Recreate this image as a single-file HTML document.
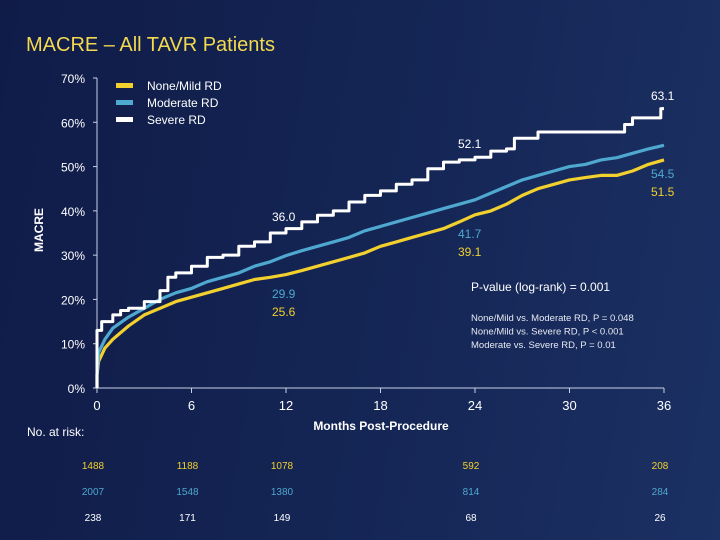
<!DOCTYPE html>
<html><head><meta charset="utf-8"><style>
body{margin:0;width:720px;height:540px;overflow:hidden;background:linear-gradient(100deg,#101b48 0%,#142554 50%,#1b3063 100%);font-family:"Liberation Sans",sans-serif}
svg{position:absolute;left:0;top:0}
</style></head><body>
<svg width="720" height="540" id="chart">
<text x="26" y="51" fill="#f2d94e" font-size="20">MACRE – All TAVR Patients</text>
<g id="axes"></g><g id="lines"></g><g id="labels"></g>
</svg>
<script>
const months=[0,6,12,18,24,30,36];
const yTicks=[0,10,20,30,40,50,60,70];
const seriesNames=["None/Mild RD","Moderate RD","Severe RD"];
const seriesColors=["#f2d02e","#4fa8cf","#ffffff"];
const mildX=[0,0.1,0.5,1,2,3,4,5,6,7,8,9,10,11,12,13,14,15,16,17,18,19,20,21,22,23,24,25,26,27,28,29,30,31,32,33,34,35,36];
const mildY=[3,6,9,11,14,16.5,18,19.5,20.5,21.5,22.5,23.5,24.5,25,25.6,26.5,27.5,28.5,29.5,30.5,32,33,34,35,36,37.5,39.1,40,41.5,43.5,45,46,47,47.5,48,48,49,50.5,51.5];
const modX=mildX;
const modY=[3,8,11,13.5,16,18,20,21.5,22.5,24,25,26,27.5,28.5,29.9,31,32,33,34,35.5,36.5,37.5,38.5,39.5,40.5,41.5,42.5,44,45.5,47,48,49,50,50.5,51.5,52,53,54,54.8];
const sevX=[0,0.3,1,1.5,2,3,4,4.5,5,6,7,8,9,10,11,12,13,14,15,16,17,18,19,20,21,22,23,24,25,26,26.5,28,33,33.5,34,35.8,36];
const sevY=[13,15,16.5,17.5,18,19.5,22,25,26,27.5,29.5,30,32,33,35,36,37.5,39,40,42,43.5,44.5,46,47,49.5,51,51.5,52.1,53.5,54,56.4,57.8,57.8,59.5,61,63.1,63.1];
const endLabels=[["25.6",12,"0"],["29.9",12,"1"],["36.0",12,"2"],["39.1",24,"0"],["41.7",24,"1"],["52.1",24,"2"],["51.5",36,"0"],["54.5",36,"1"],["63.1",36,"2"]];
const riskMild=[1488,1188,1078,null,592,null,208];
const riskMod=[2007,1548,1380,null,814,null,284];
const riskSev=[238,171,149,null,68,null,26];
const X=m=>97+m*(664-97)/36, Y=v=>388-v*(388-78)/70;
const NS="http://www.w3.org/2000/svg";
function mk(t,a,p,txt){const e=document.createElementNS(NS,t);for(const k in a)e.setAttribute(k,a[k]);if(txt!=null)e.textContent=txt;p.appendChild(e);return e;}
const ax=document.getElementById('axes'),ln=document.getElementById('lines'),lb=document.getElementById('labels');
let e=mk('line',{x1:97,y1:78,x2:97,y2:388,stroke:'#c8d0e6','stroke-width':1},ax);

e=mk('line',{x1:97,y1:388,x2:664,y2:388,stroke:'#c8d0e6','stroke-width':1},ax);

yTicks.forEach(v=>{mk('line',{x1:93,x2:97,y1:Y(v),y2:Y(v),stroke:'#c8d0e6'},ax);
 const t=mk('text',{x:85,y:Y(v)+5,fill:'#fff','font-size':12,'text-anchor':'end'},ax,v+'%');
 });
months.forEach(m=>{mk('line',{x1:X(m),x2:X(m),y1:388,y2:393,stroke:'#c8d0e6'},ax);
 const t=mk('text',{x:X(m),y:410,fill:'#fff','font-size':13,'text-anchor':'middle'},ax,m);
 });
e=mk('text',{x:0,y:0,fill:'#fff','font-size':12,'font-weight':'bold','text-anchor':'middle',transform:'translate(43,230) rotate(-90)'},ax,'MACRE');

e=mk('text',{x:381,y:430,fill:'#fff','font-size':12,'font-weight':'bold','text-anchor':'middle'},ax,'Months Post-Procedure');

function step(xs,ys){let d='M'+X(0)+','+Y(0)+' V'+Y(ys[0]);for(let i=1;i<xs.length;i++){d+=' H'+X(xs[i]).toFixed(1)+' V'+Y(ys[i]).toFixed(1);}return d;}
function poly(xs,ys){let d='M'+X(0)+','+Y(0);for(let i=0;i<xs.length;i++){d+=' L'+X(xs[i]).toFixed(1)+','+Y(ys[i]).toFixed(1);}return d;}
[[mildX,mildY,poly],[modX,modY,poly],[sevX,sevY,step]].forEach((s,i)=>{
 const p=mk('path',{d:s[2](s[0],s[1]),fill:'none',stroke:seriesColors[i],'stroke-width':i==2?3:3.2,'stroke-linejoin':'round'},ln);
 
 });
seriesNames.forEach((n,i)=>{const y=86+i*17;
 e=mk('rect',{x:116,y:y-3,width:17,height:5,fill:seriesColors[i]},lb);
 
 e=mk('text',{x:147,y:y+4,fill:'#fff','font-size':12},lb,n);
 });
const lblPos={"25.6":[272,316],"29.9":[272,298],"36.0":[272,221],"39.1":[458,256],"41.7":[458,238],"52.1":[458,148],"51.5":[651,196],"54.5":[651,178],"63.1":[651,100]};
endLabels.forEach(l=>{const p=lblPos[l[0]];
 e=mk('text',{x:p[0],y:p[1],fill:seriesColors[+l[2]],'font-size':12},lb,l[0]);
 });
e=mk('text',{x:471,y:291,fill:'#fff','font-size':12},lb,'P-value (log-rank) = 0.001');

['None/Mild vs. Moderate RD, P = 0.048','None/Mild vs. Severe RD, P < 0.001','Moderate vs. Severe RD, P = 0.01'].forEach((t,i)=>{
 e=mk('text',{x:471,y:321+i*13.5,fill:'#e6e9f2','font-size':9.5},lb,t);
 });
e=mk('text',{x:27,y:436,fill:'#fff','font-size':12},lb,'No. at risk:');

[riskMild,riskMod,riskSev].forEach((r,i)=>{r.forEach((v,j)=>{if(v==null)return;
 e=mk('text',{x:X(months[j])-4,y:469+i*26,fill:seriesColors[i],'font-size':10,'text-anchor':'middle'},lb,v);
 });});
</script>
</body></html>
